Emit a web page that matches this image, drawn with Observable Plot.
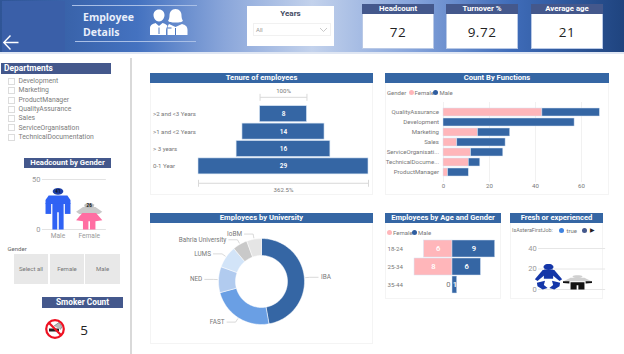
<!DOCTYPE html>
<html><head><meta charset="utf-8">
<script src="https://cdn.jsdelivr.net/npm/d3@7"></script>
<script src="https://cdn.jsdelivr.net/npm/@observablehq/plot@0.6"></script>
<style>
html,body{margin:0;padding:0;background:#fff;overflow:hidden}
#page{position:relative;width:624px;height:354px;overflow:hidden;font-family:Roboto,sans-serif;color:#777}
#page div,#page svg{position:absolute}
.band{left:0;top:0;width:624px;height:52px;background:linear-gradient(90deg,#2f5596 0%,#4472c0 22%,#8aa6da 36%,#c3d2ec 50%,#86a4db 66%,#3f6cb9 82%,#1f447f 100%)}
.bar{background:#44588c;color:#fff;font-weight:700;text-align:center;white-space:nowrap}
.ct{background:#3566a4;color:#fff;font-weight:700;font-size:7.6px;line-height:10px;height:10px;text-align:center;white-space:nowrap}
.card{background:#fff;border:1px solid #f4f4f4;box-sizing:border-box}
.line{height:1px;background:#a9bfe6}
.kpi{background:#fff;box-sizing:border-box;border:1px solid #b9c9e6}
.kv{color:#222;font-family:"Open Sans",sans-serif;font-size:13.5px;letter-spacing:.5px;text-align:center}
.li{font-size:6.8px;line-height:9px;color:#7b7b7b;white-space:nowrap}
.cb{width:7px;height:7px;border:1px solid #dcdcdc;box-sizing:border-box}
.btn{background:#e8e8e8;color:#777;font-size:6px;text-align:center;line-height:30px;height:30px}
.leg{font-size:6px;color:#777;white-space:nowrap;line-height:9px}
.dot{width:5px;height:5px;border-radius:50%}
</style></head><body><div id="page"></div>
<script>
// ---- data ----
const departments = ["Development","Marketing","ProductManager","QualityAssurance","Sales","ServiceOrganisation","TechnicalDocumentation"];
const kpiNames = ["Headcount","Turnover %","Average age"];
const kpiValues = ["72","9.72","21"];
const tenureLabels = [">2 and <3 Years",">1 and <2 Years","> 3 years","0-1 Year"];
const tenureValues = [8,14,16,29];
const functionNames = ["QualityAssurance","Development","Marketing","Sales","ServiceOrganisati...","TechnicalDocume...","ProductManager"];
const functionFemale = [43,0,15,6,12,11,2];
const functionMale = [25,57,14,21,14,5,9];
const universities = ["IBA","FAST","NED","LUMS","Bahria University","IoBM"];
const universityCounts = [34,17,7,6,4,4];
const universityColors = ["#3566a4","#6a9fe4","#b1cbef","#d2e4f8","#c9c9c9","#e5e5e5"];
const ageGroups = ["18-24","25-34","35-44"];
const ageFemale = [6,8,0];
const ageMale = [9,6,1];
const genderNames = ["Male","Female"];
const genderCounts = [41,26];
const firstJobCounts = [25,14];
const smokerCount = 5;

const FONT = 'Roboto,sans-serif', GREY = "#777", BLUE = "#3566a4", PINK = "#ffb6ba", SMALL = 6.1;
const page = document.getElementById("page");
function div(cls, l, t, w, h, html, css) {
  const d = document.createElement("div");
  d.className = cls;
  d.style.cssText = `left:${l}px;top:${t}px;${w!=null?`width:${w}px;`:""}${h!=null?`height:${h}px;`:""}${css||""}`;
  d.innerHTML = html || "";
  page.appendChild(d);
  return d;
}
function place(svg, l, t) { svg.style.left = l+"px"; svg.style.top = t+"px"; svg.style.background = "transparent"; page.appendChild(svg); }
function chart(w, h, o) {
  return Plot.plot({width:w, height:h, margin:0, style:{fontFamily:FONT, fontSize:"7px", background:"transparent", overflow:"visible", maxWidth:"none"}, ...o});
}
function ellipse(cx, cy, rx, ry) { return d3.range(0,361,20).map(a => [cx+rx*Math.sin(a*Math.PI/180), cy+ry*Math.cos(a*Math.PI/180)]); }
function mirror(p) { return p.map(([x,y]) => [-x,y]); }
// A pictogram: polygons in unit space, stretched to the value on the y scale
function glyph(slot, value, parts) {
  return parts.flatMap(([color, pts], i) => pts.concat([pts[0]]).map(([u,f]) => ({x:slot+u, y:f*value, id:`${slot}-${i}`, color})));
}
function glyphMark(rows) { return Plot.line(rows, {x:"x", y:"y", z:"id", fill:d=>d.color, stroke:"none", curve:"linear"}); }
function legendEntry(dotX, dotY, color, label, textX) {
  div("dot",dotX,dotY,null,null,"",`background:${color}`);
  div("leg",textX,dotY-2,null,9,label);
}

// ---- header ----
div("band",0,0,624,52);
div("",0,52,624,2,"","background:#dfe6f3");
div("",2,1,63,51,"","background:#3a5fa8");
page.insertAdjacentHTML("beforeend",`<svg style="left:0;top:30px" width="24" height="24"><path d="M18.5 12.5H4.5M10.5 5.5L3.8 12.5L10.5 19.5" fill="none" stroke="#fff" stroke-width="1.4"/></svg>`);
div("line",72,5,125,1);
div("line",75,41,121,1);
div("",83,10,70,34,"Employee<br>Details",'font-family:"Open Sans",sans-serif;font-weight:700;font-size:10.5px;line-height:15px;color:#e9effa');
page.insertAdjacentHTML("beforeend",`<svg style="left:146px;top:6px" width="44" height="32" fill="#fff">
<path d="M13 3.500c3.500 0 5.500 2.500 5.500 5.500s-2.300 6.500-5.500 6.500S7.500 12 7.500 9s2-5.500 5.500-5.500zM4 29v-6.500c0-3.500 2.500-4.500 5.500-5.500l3.500 3 3.500-3c2.500.8 4 1.500 5 3-1 1.500-1.500 3-1.500 5V29z"/>
<path d="M29.500 3c4 0 6 3 6 6.500 0 2 .5 4 1.500 5.500-1.500 1-3 1.500-7.500 1.500s-6-.5-7.500-1.500c1-1.500 1.500-3.500 1.500-5.500 0-3.500 2-6.500 6-6.500zM23 18l6.500 3 6.500-3c3.500 1 5.500 2.500 5.500 6v5H21.500v-5c0-3 .5-5 1.500-6z"/>
<path d="M13 21.500V28M21.500 22h4M29.500 22v7" stroke="#4a76c2" stroke-width="1" fill="none"/></svg>`);

div("",247,6,87,40,"","background:#fff");
div("",247,8,87,11,"Years","text-align:center;font-weight:700;font-size:8px;color:#444b63;line-height:11px");
div("",253,23,78,13,"All","background:#fff;border:1px solid #f1f1f1;box-sizing:border-box;font-size:6px;line-height:12px;padding-left:2px;color:#999");
page.insertAdjacentHTML("beforeend",`<svg style="left:319px;top:27px" width="9" height="6"><path d="M1 1L4.500 4.500L8 1" fill="none" stroke="#bbb" stroke-width=".8"/></svg>`);
[362,446,531].forEach((l,i) => {
  div("kpi",l,4,72,45);
  div("bar",l,4,72,10,kpiNames[i],"font-size:7.8px;line-height:10px");
  div("kv",l,23,72,18,kpiValues[i],"line-height:18px");
});

// ---- sidebar ----
div("",130,58,1.5,296,"","background:#d9d9d9");
div("bar",1,63,110,11,"Departments","font-size:8.4px;line-height:11px;text-align:left;padding-left:3px;box-sizing:border-box");
departments.forEach((d,i) => {
  div("cb",7.5,78+i*9.27);
  div("li",18.5,77.2+i*9.27,null,9,d);
});
div("bar",24,158,87,10,"Headcount by Gender","font-size:7.7px;line-height:10px");

const maleParts = [
  ["#2f62f4", [[-.3,.83],[.3,.83],[.4,.72],[.4,.62],[-.4,.62],[-.4,.72]]],
  ["#2f62f4", [[-.4,.64],[-.22,.64],[-.22,.38],[-.4,.38]]],
  ["#2f62f4", [[.4,.64],[.22,.64],[.22,.38],[.4,.38]]],
  ["#2f62f4", [[-.18,.64],[.18,.64],[.18,0],[.025,0],[.025,.42],[-.025,.42],[-.025,0],[-.18,0]]],
  ["#1d3fa6", ellipse(0,.93,.17,.08)]
];
const femaleParts = [
  ["#c9c9c9", [[-.2,.87],[.2,.87],[.42,.68],[.32,.6],[-.32,.6],[-.42,.68]]],
  ["#ff6ea2", [[-.22,.63],[.22,.63],[.42,.36],[.2,.32],[.2,0],[.025,0],[.025,.32],[-.025,.32],[-.025,0],[-.2,0],[-.2,.32],[-.42,.36]]],
  ["#bdbdbd", ellipse(0,.92,.16,.1)]
];
place(chart(85,70,{
  x:{domain:[0,1], range:[27.5,58.7], axis:null},
  y:{domain:[0,50], range:[57,7], axis:null},
  marks:[
    Plot.ruleY([0,50],{x1:-.5,x2:1.55,stroke:"#e3e3e3",strokeWidth:1}),
    glyphMark(glyph(0,genderCounts[0],maleParts)),
    glyphMark(glyph(1,genderCounts[1],femaleParts)),
    Plot.text([0,50],{x:-.5,y:d=>d,text:d=>String(d),textAnchor:"end",dx:-2,fill:"#999",fontSize:7.5}),
    Plot.text(genderNames,{x:(d,i)=>i,y:0,text:d=>d,dy:6.5,fill:"#999",fontSize:6.6}),
    Plot.text(genderCounts,{x:(d,i)=>i,y:(d,i)=>d*(i?.92:.93),text:d=>String(d),fill:"#111",fontSize:4.6,fontWeight:700})
  ]
}),30,172);

div("leg",7.5,244,null,9,"Gender","color:#666");
[["Select all",14,34],["Female",50,34],["Male",85,35]].forEach(([t,l,w]) => div("btn",l,254,w,30,t));
div("bar",42,297,81,11,"Smoker Count","font-size:8.3px;line-height:11px");
page.insertAdjacentHTML("beforeend",`<svg style="left:44px;top:318px" width="22" height="22">
<rect x="5" y="10.500" width="10" height="3" fill="#222"/><path d="M10 8l5-3.500 3 4-1.500 3" fill="#bbb" stroke="#666" stroke-width=".6"/>
<circle cx="11" cy="11" r="8.800" fill="none" stroke="#ee1122" stroke-width="2.200"/><path d="M4.800 4.800L17.200 17.200" stroke="#ee1122" stroke-width="2.200"/></svg>`);
div("",76,320,16,20,String(smokerCount),'font-family:"Open Sans",sans-serif;font-size:13.5px;color:#222;line-height:20px;text-align:center');

// ---- Tenure of employees ----
div("card",150,73,223,122);
div("ct",150,73,223,10,"Tenure of employees");
const tenureRows = tenureLabels.map((label,i) => ({label, value:tenureValues[i], row:i}));
const firstTenure = tenureValues[0], lastTenure = tenureValues[3];
const pctTop = "100%", pctBottom = (lastTenure/firstTenure*100).toFixed(1)+"%";
place(chart(223,112,{
  x:{domain:[-14.5,14.5], range:[48,218], axis:null},
  y:{domain:[-1,5], range:[3.6,108], axis:null},
  marks:[
    Plot.rect(tenureRows,{x1:d=>-d.value/2,x2:d=>d.value/2,y1:"row",y2:d=>d.row+1,insetTop:.7,insetBottom:.7,fill:BLUE,stroke:"#d5e3f3",strokeWidth:.6}),
    Plot.text(tenureRows,{x:0,y:d=>d.row+.5,text:d=>String(d.value),fill:"#fff",fontSize:6.5,fontWeight:600}),
    Plot.text(tenureRows,{y:d=>d.row+.5,text:"label",frameAnchor:"left",dx:2.5,fill:GREY,fontSize:SMALL}),
    Plot.link([[firstTenure,-.47],[lastTenure,4.47]],{x1:d=>-d[0]/2,x2:d=>d[0]/2,y1:d=>d[1],y2:d=>d[1],stroke:"#d9d9d9",strokeWidth:1}),
    Plot.link([[-firstTenure/2,-.47],[firstTenure/2,-.47],[-lastTenure/2,4.47],[lastTenure/2,4.47]],{x1:d=>d[0],x2:d=>d[0],y1:d=>d[1]-.2,y2:d=>d[1]+.2,stroke:"#d9d9d9",strokeWidth:1}),
    Plot.text([[pctTop,-.83],[pctBottom,4.85]],{x:0,y:d=>d[1],text:d=>d[0],fill:GREY,fontSize:SMALL})
  ]
}),150,84);

// ---- Count By Functions ----
div("card",385,73,224,122);
div("ct",385,73,224,10,"Count By Functions");
div("leg",387,87.5,null,9,"Gender");
legendEntry(408.5,89.5,PINK,"Female",414.5);
legendEntry(433,89.5,"#2f5da0","Male",439.5);
const functionRows = functionNames.flatMap((name,i) => [
  {name, gender:"Female", value:functionFemale[i]},
  {name, gender:"Male", value:functionMale[i]}
]);
place(chart(224,110,{
  x:{domain:[0,70], range:[58,219], axis:null},
  y:{domain:functionNames, range:[21.5,94.6], padding:.22, axis:null},
  color:{domain:["Female","Male"], range:[PINK,BLUE]},
  marks:[
    Plot.ruleX([0,20,40,60],{stroke:"#f1f1f1",strokeWidth:1,insetTop:18,insetBottom:12}),
    Plot.barX(functionRows,{x:"value",y:"name",fill:"gender",stroke:"#d5e3f3",strokeWidth:.5}),
    Plot.text(functionNames,{x:0,y:d=>d,text:d=>d,textAnchor:"end",dx:-4.5,fill:GREY,fontSize:SMALL}),
    Plot.text([0,20,40,60],{x:d=>d,frameAnchor:"bottom",dy:-7,text:d=>String(d),fill:GREY,fontSize:SMALL})
  ]
}),385,84);

// ---- Employees by University ----
div("card",150,213,223,131);
div("ct",150,213,223,10,"Employees by University");
const INNER = 26/43;
const arcs = d3.pie().sort(null)(universityCounts).map((a,i) => ({name:universities[i], a0:a.startAngle, a1:a.endAngle, mid:(a.startAngle+a.endAngle)/2}));
const ring = arcs.flatMap(s => {
  const steps = d3.range(0,1.0001,1/Math.max(4,Math.ceil((s.a1-s.a0)*30)));
  const at = t => s.a0+(s.a1-s.a0)*t;
  const outer = steps.map(t => ({name:s.name, x:Math.sin(at(t)), y:Math.cos(at(t))}));
  const inner = steps.slice().reverse().map(t => ({name:s.name, x:INNER*Math.sin(at(t)), y:INNER*Math.cos(at(t))}));
  return [...outer,...inner,outer[0]];
});
const leaders = arcs.flatMap(s => {
  const side = Math.sin(s.mid) >= 0 ? 1 : -1;
  return [[1.03,0],[1.12,0],[1.12,.2*side]].map(([r,h]) => ({name:s.name, x:r*Math.sin(s.mid)+h, y:r*Math.cos(s.mid)}));
});
const uniLabels = arcs.map(s => {
  const side = Math.sin(s.mid) >= 0 ? 1 : -1;
  return {name:s.name, side, x:1.12*Math.sin(s.mid)+.2*side, y:1.12*Math.cos(s.mid)};
});
place(chart(223,120,{
  x:{domain:[-1,1], range:[68,154], axis:null},
  y:{domain:[-1,1], range:[100,14], axis:null},
  color:{domain:universities, range:universityColors},
  marks:[
    Plot.line(ring,{x:"x",y:"y",z:"name",fill:"name",stroke:"#fff",strokeWidth:.5,curve:"linear"}),
    Plot.line(leaders,{x:"x",y:"y",z:"name",stroke:"#cfcfcf",strokeWidth:.8,curve:"linear"}),
    Plot.text(uniLabels.filter(d=>d.side>0),{x:"x",y:"y",text:"name",textAnchor:"start",dx:3,fill:GREY,fontSize:6.4}),
    Plot.text(uniLabels.filter(d=>d.side<0),{x:"x",y:"y",text:"name",textAnchor:"end",dx:-2.5,fill:GREY,fontSize:6.4})
  ]
}),150,224);

// ---- Employees by Age and Gender ----
div("card",385,213,116,86);
div("ct",385,213,116,10,"Employees by Age and Gender");
legendEntry(387,229.5,PINK,"Female",393);
legendEntry(412,229.5,"#2f5da0","Male",418);
const ageRows = ageGroups.flatMap((age,i) => [
  {age, gender:"Female", value:ageFemale[i], signed:-ageFemale[i]},
  {age, gender:"Male", value:ageMale[i], signed:ageMale[i]}
]);
place(chart(116,72,{
  x:{domain:[-9,9], range:[24.3,109.7], axis:null},
  y:{domain:ageGroups, range:[13,71], padding:.06, axis:null},
  color:{domain:["Female","Male"], range:[PINK,BLUE]},
  marks:[
    Plot.barX(ageRows.filter(d=>d.value>0),{x1:0,x2:"signed",y:"age",fill:"gender",stroke:"#d5e3f3",strokeWidth:.5}),
    Plot.text(ageRows.filter(d=>d.value>0),{x:d=>d.signed/2,y:"age",text:d=>String(d.value),fill:"#fff",fontWeight:600,fontSize:7.6}),
    Plot.text(ageRows.filter(d=>d.value===0),{x:0,y:"age",text:d=>String(d.value),textAnchor:"end",dx:-2,fill:GREY,fontSize:7.6}),
    Plot.text(ageGroups,{y:d=>d,text:d=>d,frameAnchor:"left",dx:2,fill:GREY,fontSize:SMALL})
  ]
}),385,224);

// ---- Fresh or experienced ----
div("card",510,213,93,86);
div("ct",510,213,93,10,"Fresh or experienced");
div("leg",512,225.5,null,9,"IsAsteraFirstJob:","font-size:5.4px");
legendEntry(559,227.5,"#3f83e0","true",566.5);
div("dot",582,227.5,null,null,"","background:#44588c");
div("leg",590,225.5,null,9,"&#9654;","color:#222;font-size:5.5px");
const babyArm = [[-.14,.76],[-.14,.56],[-.38,.33],[-.47,.4],[-.2,.76]];
const babyLeg = [[-.4,.26],[-.12,.34],[-.16,.18],[-.03,.06],[-.2,0],[-.38,.13]];
const babyParts = [
  ["#1436a8", [[-.16,.78],[.16,.78],[.16,.42],[-.16,.42]]],
  ["#1436a8", babyArm], ["#1436a8", mirror(babyArm)],
  ["#1436a8", babyLeg], ["#1436a8", mirror(babyLeg)],
  ["#1436a8", ellipse(0,.88,.17,.12)]
];
const adultParts = [
  ["#d0d0d0", [[-.24,.82],[.24,.82],[.5,.56],[-.5,.56]]],
  ["#111", [[-.5,.58],[-.28,.58],[-.28,.42],[-.5,.46]]],
  ["#111", [[.5,.58],[.28,.58],[.28,.42],[.5,.46]]],
  ["#f2f2f2", [[-.24,.58],[.24,.58],[.24,.48],[-.24,.48]]],
  ["#111", [[-.24,.5],[.24,.5],[.24,0],[.03,0],[.03,.3],[-.03,.3],[-.03,0],[-.24,0]]],
  ["#d0d0d0", ellipse(0,.9,.17,.1)]
];
place(chart(93,60,{
  x:{domain:[0,1], range:[38,67], axis:null},
  y:{domain:[0,40], range:[53,12], axis:null},
  marks:[
    Plot.ruleY([0,20,40],{x1:-.34,x2:1.97,stroke:"#e6e6e6",strokeWidth:1}),
    glyphMark(glyph(0,firstJobCounts[0],babyParts)),
    glyphMark(glyph(1,firstJobCounts[1],adultParts)),
    Plot.text([0,20,40],{x:-.34,y:d=>d,text:d=>String(d),textAnchor:"end",dx:-2,fill:"#999",fontSize:7.5})
  ]
}),510,236);
</script></body></html>
